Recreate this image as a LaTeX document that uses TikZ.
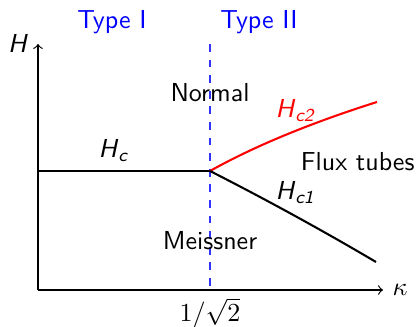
\documentclass[tikz,border=0pt]{standalone}
\usepackage{amsmath}
\begin{document}
\begin{tikzpicture}[x=0.3846pt,y=-0.3846pt,
  axis/.style={line width=0.45pt,->,>=to},
  curve/.style={line width=0.8pt},
  lbl/.style={font=\sffamily,inner sep=0pt,anchor=base},
  typ/.style={lbl,text=blue}]
\useasboundingbox (0,0) rectangle (417,327);
\coordinate (O) at (38,290);
\coordinate (Ytop) at (38,44);
\coordinate (Xend) at (383,290);
\coordinate (Dtop) at (210,44);
\coordinate (Dbot) at (210,290);
\coordinate (L) at (38,171);
\coordinate (P) at (210,171);
\coordinate (R2) at (377,102);
\coordinate (R1) at (376,262);
\draw[blue!80,dashed,line width=0.4pt,dash pattern=on 3pt off 3pt] (Dtop) -- (Dbot);
\draw[axis] (O) -- (Ytop);
\draw[axis] (O) -- (Xend);
\draw[curve] (L) -- (P);
\draw[curve,red] (P) .. controls (260,143) and (320,120) .. (R2);
\draw[curve] (P) .. controls (265,199) and (320,229) .. (R1);
\node[typ] (t1) at (112,29) {Type I};
\node[typ] (t2) at (259,29) {Type II};
\node[lbl] (h) at (18,53) {\textit{H}};
\node[lbl] (n) at (210,102) {Normal};
\node[lbl,anchor=base west] (hc) at (98,158) {\textit{H}$_{\textsf{\textit{c}}}$};
\node[lbl,anchor=base west,text=red] (hc2) at (275,118) {\textit{H}$_{\textsf{\textit{c2}}}$};
\node[lbl,anchor=base west] (hc1) at (275,200) {\textit{H}$_{\textsf{\textit{c1}}}$};
\node[lbl,anchor=base east] (ft) at (415,171) {Flux tubes};
\node[lbl] (m) at (210,250) {Meissner};
\node[inner sep=0pt,anchor=base west] (k) at (392,296) {$\kappa$};
\node[inner sep=0pt,anchor=base] (s) at (210,322) {$1/\sqrt{2}$};
\end{tikzpicture}
\end{document}
